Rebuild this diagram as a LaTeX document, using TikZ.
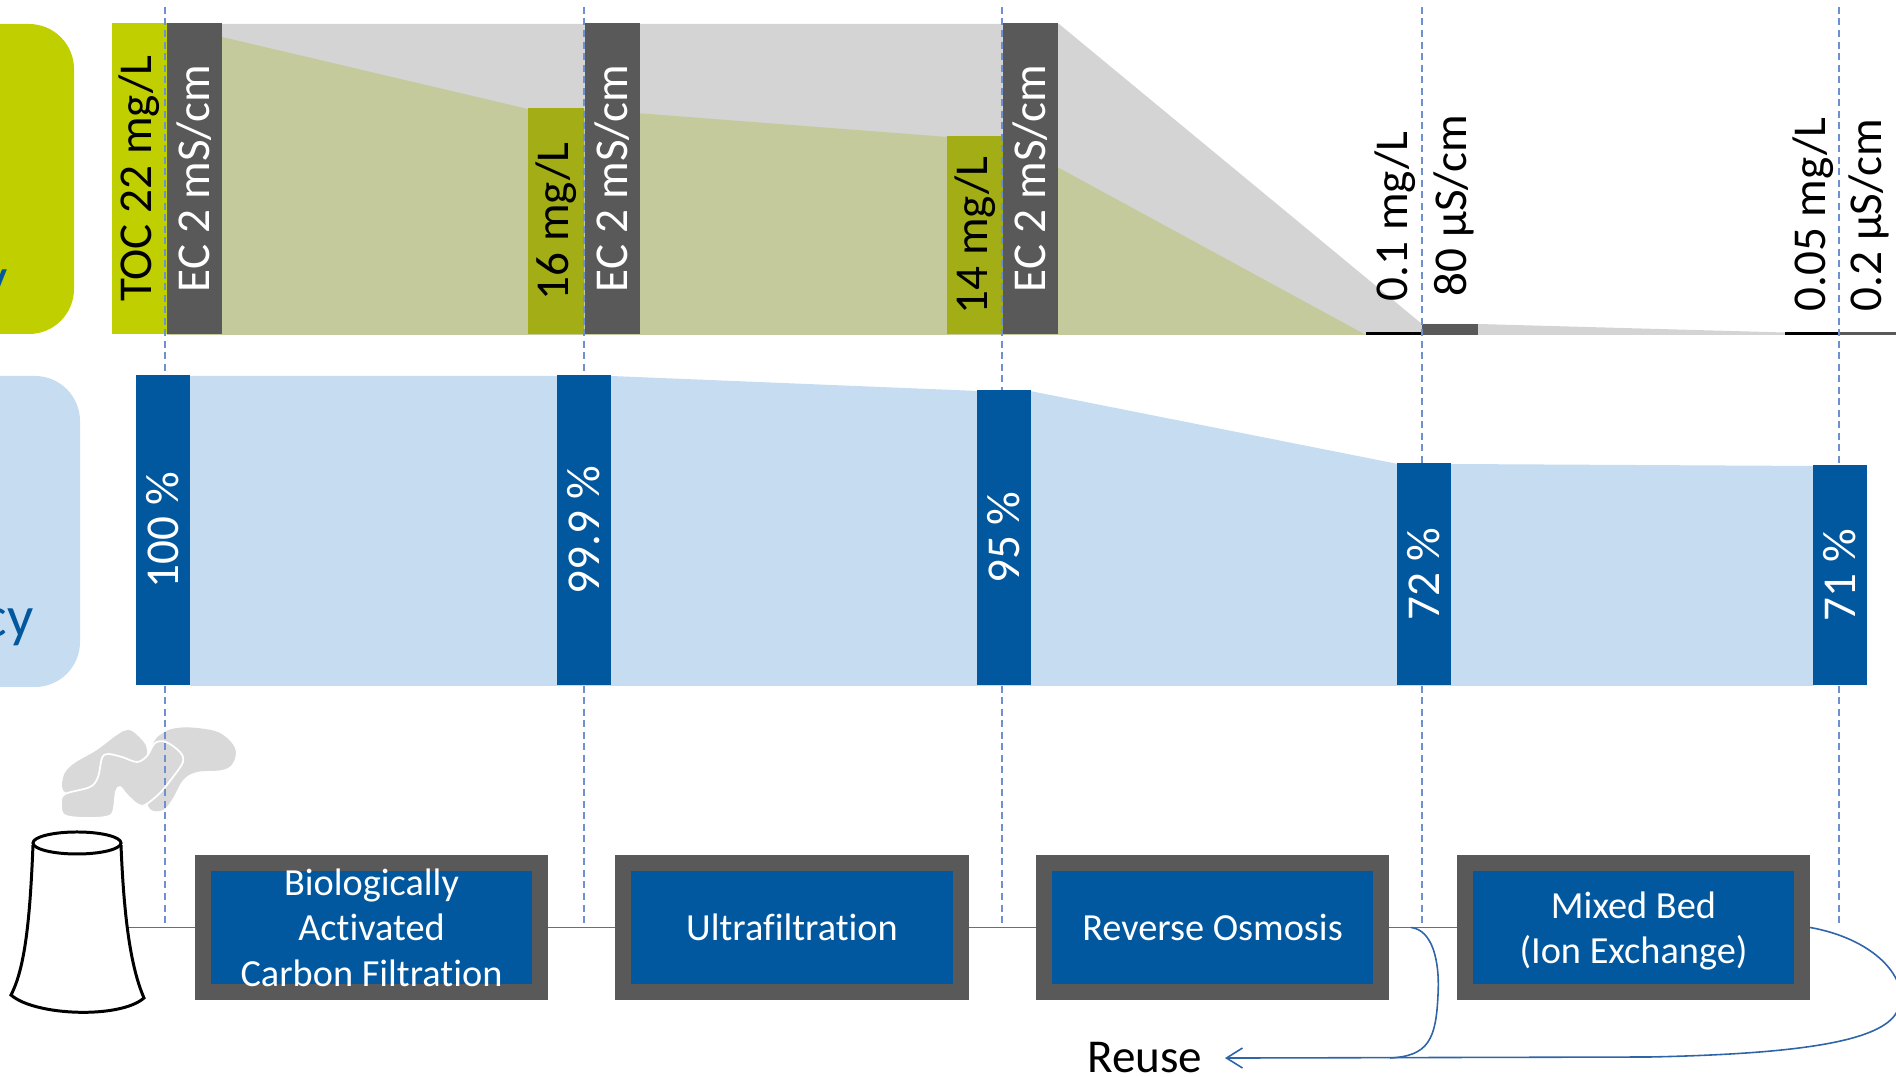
\documentclass[tikz,border=0pt]{standalone}
\usepackage{fontspec}
\setmainfont{Carlito}[Ligatures=NoCommon]
\usetikzlibrary{positioning,arrows.meta,backgrounds,calc}

\definecolor{tocgreen}{HTML}{C0CF00}
\definecolor{tocolive}{HTML}{A3AE16}
\definecolor{tocarea}{HTML}{C5CA9C}
\definecolor{ecarea}{HTML}{D4D4D4}
\definecolor{darkgrey}{HTML}{595959}
\definecolor{flowblue}{HTML}{02589F}
\definecolor{flowpale}{HTML}{C6DCF0}
\definecolor{linkblue}{HTML}{4472C4}
\definecolor{guideblue}{HTML}{6F90D0}
\definecolor{returnblue}{HTML}{2E64A8}
\definecolor{smoke}{HTML}{D9D9D9}

\begin{document}
\begin{tikzpicture}[
  x=0.01cm, y=-0.01cm,
  font=\fontsize{13.4}{16}\selectfont,
  stagebar/.style={rotate=90, anchor=west, inner sep=0pt, minimum height=0.55cm},
  tocbar/.style={stagebar, fill=tocolive, text=black},
  ecbar/.style={stagebar, fill=darkgrey, text=white},
  effbar/.style={stagebar, fill=flowblue, text=white, minimum height=0.53cm},
  reading/.style={rotate=90, anchor=west, inner sep=0pt},
  panel/.style={rounded corners=0.45cm},
  tag/.style={anchor=base east, inner sep=0pt, text=flowblue, font=\fontsize{16.5}{20}\selectfont},
  procbox/.style={draw=darkgrey, line width=0.16cm, fill=flowblue, text=white, inner ysep=0pt, minimum width=3.37cm, minimum height=1.29cm, align=center, font=\fontsize{10.9}{12.9}\selectfont},
  tower/.style={draw=black, line width=0.85pt, fill=white},
  puff/.style={fill=smoke},
  guideline/.style={draw=guideblue, line width=0.35pt, dash pattern=on 0.7mm off 0.45mm},
  flowline/.style={draw=linkblue, line width=0.45pt},
  reuseline/.style={draw=returnblue, line width=0.45pt}
]
\useasboundingbox (0,0) rectangle (1896,1077);
\clip (0,0) rectangle (1896,1077);

% ---------- side panels ----------
\fill[tocgreen, panel] (-100,24) rectangle (74,334);
\fill[flowpale, panel] (-100,376) rectangle (80,687);
\node[tag] (qualitytag) at (8,298) {y};
\node[tag] (efftag) at (34,637) {cy};

% ---------- TOC / EC along the train ----------
\fill[ecarea] (167,24) -- (1059,24) -- (1422,324) -- (1478,324) -- (1839,334) -- (1839,335) -- (167,335) -- cycle;
\fill[tocarea] (167,24) -- (528,109) -- (584,109) -- (948,137) -- (1002,137) -- (1366,335) -- (167,335) -- cycle;

\node[tocbar, fill=tocgreen, minimum width=3.11cm] (toc1) at (139.5,335) {TOC 22 mg/L};
\node[ecbar, minimum width=3.11cm] (ec1) at (194.5,335) {EC 2 mS/cm};
\node[tocbar, minimum width=2.26cm] (toc2) at (556,335) {16 mg/L};
\node[ecbar, minimum width=3.11cm] (ec2) at (612.5,335) {EC 2 mS/cm};
\node[tocbar, minimum width=1.98cm] (toc3) at (975,335) {14 mg/L};
\node[ecbar, minimum width=3.11cm] (ec3) at (1030.5,335) {EC 2 mS/cm};

% the last two stages are almost flat
\draw[black, line width=0.85pt] (1366,334) -- (1421,334);
\fill[darkgrey] (1422,324) rectangle (1478,335);
\draw[black, line width=0.85pt] (1785,334) -- (1839,334);
\draw[darkgrey, line width=0.85pt] (1839,334) -- (1896,334);
\node[reading] (toc4) at (1395,302) {0.1 mg/L};
\node[reading] (ec4) at (1454,297) {80 µS/cm};
\node[reading] (toc5) at (1813,312) {0.05 mg/L};
\node[reading] (ec5) at (1869,312) {0.2 µS/cm};

% ---------- cooling tower ----------
\path[puff] plot[smooth cycle, tension=0.6] coordinates {(63,778) (72,765) (97,750) (117,735) (128,730) (138,736) (147,750) (140,775) (107,792) (67,793)};
\path[puff] plot[smooth cycle, tension=0.6] coordinates {(152,747) (163,733) (177,728) (197,728) (220,733) (235,748) (233,763) (222,770) (197,772) (183,780) (173,798) (163,810) (150,809) (147,792)};
\path[puff, draw=white, line width=0.5pt] plot[smooth cycle, tension=0.55] coordinates {(61,803) (65,794) (90,787) (98,777) (102,758) (108,754) (122,757) (137,762) (147,756) (155,743) (166,742) (180,752) (183,762) (173,777) (160,793) (145,805) (137,804) (127,795) (120,787) (116,792) (113,812) (105,817) (83,818) (64,815)};
\draw[tower] (33,845) .. controls (30,920) and (25,968) .. (11,995) .. controls (35,1016) and (120,1019) .. (144,998) .. controls (131,968) and (124,920) .. (121,845);
\draw[tower] (77,843) ellipse [x radius=0.44cm, y radius=0.11cm];
\coordinate (towerout) at (128,927.5);

% ---------- stage guides ----------
\coordinate (s1) at (165,927.5);
\coordinate (s2) at (584,927.5);
\coordinate (s3) at (1002,927.5);
\coordinate (s4) at (1422,927.5);
\coordinate (s5) at (1839,927.5);
\draw[guideline] (s1 |- 0,7) -- (s1);
\draw[guideline] (s2 |- 0,7) -- (s2);
\draw[guideline] (s3 |- 0,7) -- (s3);
\draw[guideline] (s4 |- 0,7) -- (s4);
\draw[guideline] (s5 |- 0,7) -- (s5);

% ---------- water efficiency ----------
\fill[flowpale] (190,376) -- (557,376) -- (611,376) -- (978,391) -- (1030,391) -- (1398,464) -- (1450,464) -- (1814,466) -- (1814,686) -- (190,686) -- cycle;

\node[effbar, minimum width=3.10cm] (eff1) at (163,686) {100 \%};
\node[effbar, minimum width=3.10cm] (eff2) at (584,686) {99.9 \%};
\node[effbar, minimum width=2.95cm] (eff3) at (1004,686) {95 \%};
\node[effbar, minimum width=2.22cm] (eff4) at (1424,686) {72 \%};
\node[effbar, minimum width=2.20cm] (eff5) at (1840,686) {71 \%};

% ---------- treatment train ----------
\node[procbox] (bac) at (371.5,927.5) {Biologically\\Activated\\Carbon Filtration};
\node[procbox] (uf)  at ($(bac)+(420.5,0)$) {Ultrafiltration};
\node[procbox] (ro)  at ($(uf)+(420.5,0)$)  {Reverse Osmosis};
\node[procbox, text depth=0pt] (mb) at ($(ro)+(421,0)$) {Mixed Bed\\(Ion Exchange)};

\node[anchor=base east, inner xsep=0.22cm, inner ysep=0pt] (reuse) at (1225,1073) {Reuse};
\coordinate (split) at ($(ro.east)+(22,0)$);

\begin{scope}[on background layer]
  \clip (0,0) rectangle (1896,1077);
  \draw[flowline] (towerout) -- (bac.west);
  \draw[flowline] (bac.east) -- (uf.west);
  \draw[flowline] (uf.east) -- (ro.west);
  \draw[flowline] (ro.east) -- (mb.west);
  \draw[reuseline, -{Straight Barb[length=1.6mm, width=2mm]}] (mb.east) .. controls (1880,940) and (1915,985) .. (1895,1015) .. controls (1875,1043) and (1790,1054) .. (1650,1057) -- (reuse.east);
  \draw[reuseline] (split) .. controls (1432,930) and (1440,960) .. (1438,995) .. controls (1436,1040) and (1428,1056) .. (1390,1058);
\end{scope}

\end{tikzpicture}
\end{document}
